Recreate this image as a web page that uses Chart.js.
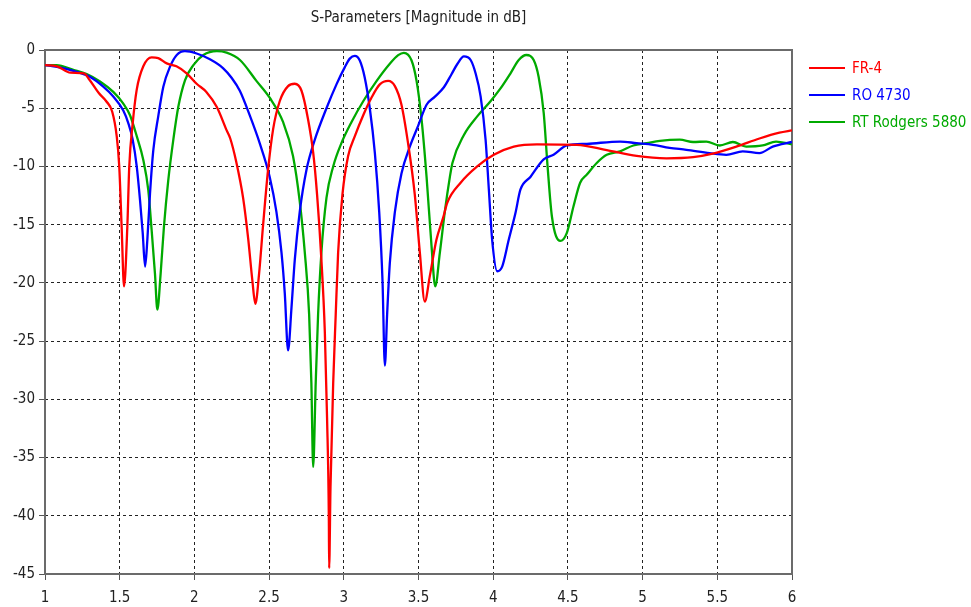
<!DOCTYPE html>
<html>
<head>
<meta charset="utf-8">
<title>S-Parameters</title>
<script src="https://cdn.jsdelivr.net/npm/chart.js@4/dist/chart.umd.min.js"></script>
<style>
  html, body { margin: 0; padding: 0; background: #ffffff; }
  canvas { display: block; }
</style>
</head>
<body>
<canvas id="sparams" width="971" height="607"></canvas>
<script>
// Axis ticks
const xTicks = [1, 1.5, 2, 2.5, 3, 3.5, 4, 4.5, 5, 5.5, 6];
const yTicks = [0, -5, -10, -15, -20, -25, -30, -35, -40, -45];

// Series names and colours
const seriesNames = ['FR-4', 'RO 4730', 'RT Rodgers 5880'];
const seriesColors = ['#ff0000', '#0000ff', '#00aa00'];

// FR-4 : frequency (GHz) / |S11| (dB)
const fr4Freq = [1.0, 1.08, 1.17, 1.26, 1.30, 1.36, 1.41, 1.45, 1.48, 1.497, 1.513, 1.529, 1.551, 1.564, 1.587, 1.614, 1.658, 1.714, 1.758, 1.815, 1.88, 1.948, 2.015, 2.08, 2.15, 2.216, 2.24, 2.28, 2.326, 2.36, 2.388, 2.408, 2.433, 2.46, 2.493, 2.527, 2.571, 2.627, 2.672, 2.717, 2.76, 2.795, 2.821, 2.85, 2.873, 2.888, 2.9, 2.902, 2.911, 2.929, 2.946, 2.962, 2.991, 3.029, 3.074, 3.13, 3.185, 3.241, 3.297, 3.342, 3.386, 3.43, 3.475, 3.509, 3.542, 3.576, 3.62, 3.665, 3.693, 3.782, 3.893, 4.004, 4.138, 4.293, 4.56, 4.76, 4.96, 5.16, 5.338, 5.47, 5.627, 5.782, 5.916, 6.0];
const fr4Db   = [-1.3, -1.4, -1.95, -2.0, -2.6, -3.7, -4.4, -5.3, -7.4, -10, -15.2, -20.3, -15.2, -10, -6.3, -3.4, -1.4, -0.63, -0.7, -1.15, -1.4, -2.0, -2.9, -3.6, -4.9, -6.9, -7.6, -9.6, -12.7, -16.2, -19.8, -21.8, -19.2, -15, -10.3, -6.8, -4.4, -3.1, -2.9, -3.5, -5.9, -8.8, -12.4, -18, -24.2, -31.6, -40.4, -44.5, -37.5, -28.6, -22.7, -17.4, -12.4, -9.1, -7.4, -5.6, -4.1, -2.95, -2.65, -3.1, -4.7, -8.0, -12.4, -17.4, -21.6, -19.4, -16.3, -14.4, -13.1, -11.4, -10, -9.0, -8.3, -8.1, -8.15, -8.6, -9.1, -9.3, -9.2, -8.9, -8.3, -7.6, -7.1, -6.9];

// RO 4730
const ro4730Freq = [1.0, 1.08, 1.19, 1.30, 1.39, 1.457, 1.524, 1.558, 1.587, 1.614, 1.636, 1.654, 1.67, 1.685, 1.703, 1.725, 1.758, 1.792, 1.837, 1.882, 1.937, 2.015, 2.104, 2.193, 2.25, 2.304, 2.37, 2.437, 2.504, 2.549, 2.583, 2.605, 2.627, 2.65, 2.672, 2.705, 2.75, 2.806, 2.884, 2.951, 3.007, 3.04, 3.074, 3.107, 3.14, 3.174, 3.208, 3.237, 3.259, 3.275, 3.29, 3.308, 3.342, 3.386, 3.442, 3.498, 3.554, 3.61, 3.67, 3.72, 3.76, 3.804, 3.849, 3.882, 3.916, 3.949, 3.971, 3.993, 4.027, 4.06, 4.104, 4.149, 4.182, 4.249, 4.338, 4.404, 4.493, 4.627, 4.849, 4.96, 5.07, 5.18, 5.293, 5.449, 5.56, 5.67, 5.782, 5.871, 6.0];
const ro4730Db   = [-1.3, -1.45, -1.8, -2.3, -3.15, -4.0, -5.2, -6.3, -7.7, -10, -12.9, -15.7, -18.6, -16.3, -12.3, -8.6, -5.7, -3.15, -1.43, -0.43, -0.1, -0.3, -0.8, -1.57, -2.4, -3.5, -5.6, -8.0, -10.9, -13.9, -17.4, -20.9, -25.8, -22.1, -18, -13.9, -10.3, -7.7, -5.0, -2.95, -1.47, -0.74, -0.5, -0.9, -2.36, -5.0, -8.85, -13.9, -19.8, -27.1, -22.7, -18.3, -13.9, -10.6, -8.3, -6.5, -4.7, -4.0, -3.2, -2.1, -1.2, -0.55, -0.86, -2.0, -4.0, -7.7, -12, -16.3, -19.0, -18.6, -16.3, -14, -12, -10.9, -9.4, -9.0, -8.2, -8.06, -7.86, -8.0, -8.14, -8.4, -8.57, -8.86, -9.0, -8.7, -8.86, -8.3, -7.9];

// RT Rodgers 5880
const rt5880Freq = [1.0, 1.078, 1.19, 1.279, 1.368, 1.457, 1.524, 1.569, 1.614, 1.658, 1.691, 1.714, 1.736, 1.752, 1.774, 1.796, 1.825, 1.859, 1.892, 1.937, 1.993, 2.06, 2.15, 2.216, 2.305, 2.415, 2.504, 2.594, 2.66, 2.705, 2.739, 2.768, 2.783, 2.795, 2.812, 2.828, 2.85, 2.884, 2.929, 2.984, 3.051, 3.13, 3.22, 3.308, 3.364, 3.402, 3.453, 3.487, 3.52, 3.554, 3.587, 3.612, 3.643, 3.676, 3.71, 3.727, 3.804, 3.893, 3.982, 4.049, 4.116, 4.171, 4.222, 4.271, 4.304, 4.338, 4.364, 4.393, 4.449, 4.493, 4.538, 4.582, 4.627, 4.693, 4.76, 4.849, 4.938, 5.027, 5.116, 5.249, 5.338, 5.427, 5.516, 5.604, 5.693, 5.804, 5.893, 6.0];
const rt5880Db   = [-1.3, -1.3, -1.7, -2.06, -2.7, -3.6, -4.6, -5.6, -7.4, -9.45, -12.0, -15.5, -19.2, -22.3, -19.2, -15.2, -11.2, -7.7, -4.9, -2.6, -1.3, -0.43, -0.1, -0.23, -0.86, -2.65, -4.1, -6.2, -9.1, -13, -17.4, -22.7, -28.6, -35.8, -28.6, -22.7, -17.4, -12.7, -10, -8.0, -6.2, -4.4, -2.65, -1.18, -0.44, -0.24, -0.88, -2.65, -5.9, -10.9, -16.8, -20.3, -17.4, -13.9, -10.9, -9.7, -7.3, -5.7, -4.4, -3.3, -2.0, -0.86, -0.43, -0.86, -2.3, -5.4, -10, -14.3, -16.4, -15.7, -13.4, -11.4, -10.7, -9.7, -9.0, -8.7, -8.2, -8.0, -7.8, -7.7, -7.9, -7.86, -8.2, -7.9, -8.3, -8.2, -7.86, -8.1];

const FONT = '"DejaVu Sans Condensed", "Liberation Sans Narrow", "DejaVu Sans", sans-serif';
const seriesFreq = [fr4Freq, ro4730Freq, rt5880Freq];
const seriesDb = [fr4Db, ro4730Db, rt5880Db];

const datasets = seriesNames.map((name, i) => ({
  label: name,
  data: seriesFreq[i].map((f, k) => ({ x: f, y: seriesDb[i][k] })),
  borderColor: seriesColors[i],
  backgroundColor: seriesColors[i],
  borderWidth: 2.3,
  pointRadius: 0,
  fill: false,
  cubicInterpolationMode: 'monotone'
}));

// Gray frame round the plotting area
const framePlugin = {
  id: 'frame',
  beforeDatasetsDraw(chart) {
    const { ctx, chartArea: a } = chart;
    ctx.save();
    ctx.strokeStyle = '#6b6b6b';
    ctx.lineWidth = 2;
    ctx.strokeRect(a.left, a.top, a.right - a.left, a.bottom - a.top);
    ctx.restore();
  }
};

// Legend at the right of the plot, text in series colour
const sideLegend = {
  id: 'sideLegend',
  afterDraw(chart) {
    const { ctx, chartArea: a } = chart;
    ctx.save();
    ctx.font = '15px ' + FONT;
    ctx.textBaseline = 'middle';
    ctx.textAlign = 'left';
    seriesNames.forEach((name, i) => {
      const y = a.top + 18 + i * 27;
      const x0 = a.right + 17;
      ctx.strokeStyle = seriesColors[i];
      ctx.lineWidth = 2;
      ctx.beginPath();
      ctx.moveTo(x0, y);
      ctx.lineTo(x0 + 36, y);
      ctx.stroke();
      ctx.fillStyle = seriesColors[i];
      ctx.fillText(name, x0 + 43, y + 1);
    });
    ctx.restore();
  }
};

new Chart(document.getElementById('sparams'), {
  type: 'line',
  data: { datasets },
  options: {
    responsive: false,
    animation: false,
    layout: { padding: { left: 0, right: 179, top: 0, bottom: 0 } },
    plugins: {
      legend: { display: false },
      tooltip: { enabled: false },
      title: {
        display: true,
        text: 'S-Parameters [Magnitude in dB]',
        fullSize: false,
        color: '#222222',
        font: { family: FONT, size: 15, weight: 'normal' },
        padding: { top: 9, bottom: 23 }
      }
    },
    scales: {
      x: {
        type: 'linear',
        min: 1,
        max: 6,
        afterBuildTicks(axis) { axis.ticks = xTicks.map(v => ({ value: v })); },
        afterFit(axis) { axis.height = 33; },
        ticks: {
          color: '#222222',
          font: { family: FONT, size: 15 },
          padding: 9,
          maxRotation: 0,
          callback: v => String(v)
        },
        grid: {
          color: '#222222',
          lineWidth: 1,
          drawTicks: true,
          tickLength: 6,
          tickColor: '#555555',
          tickBorderDash: []
        },
        border: { display: false, dash: [3, 3] }
      },
      y: {
        type: 'linear',
        min: -45,
        max: 0,
        afterBuildTicks(axis) { axis.ticks = yTicks.map(v => ({ value: v })); },
        afterFit(axis) { axis.width = 45; },
        ticks: {
          color: '#222222',
          font: { family: FONT, size: 15 },
          padding: 4,
          callback: v => String(v)
        },
        grid: {
          color: '#222222',
          lineWidth: 1,
          drawTicks: true,
          tickLength: 6,
          tickColor: '#555555',
          tickBorderDash: []
        },
        border: { display: false, dash: [3, 3] }
      }
    }
  },
  plugins: [framePlugin, sideLegend]
});
</script>
</body>
</html>
